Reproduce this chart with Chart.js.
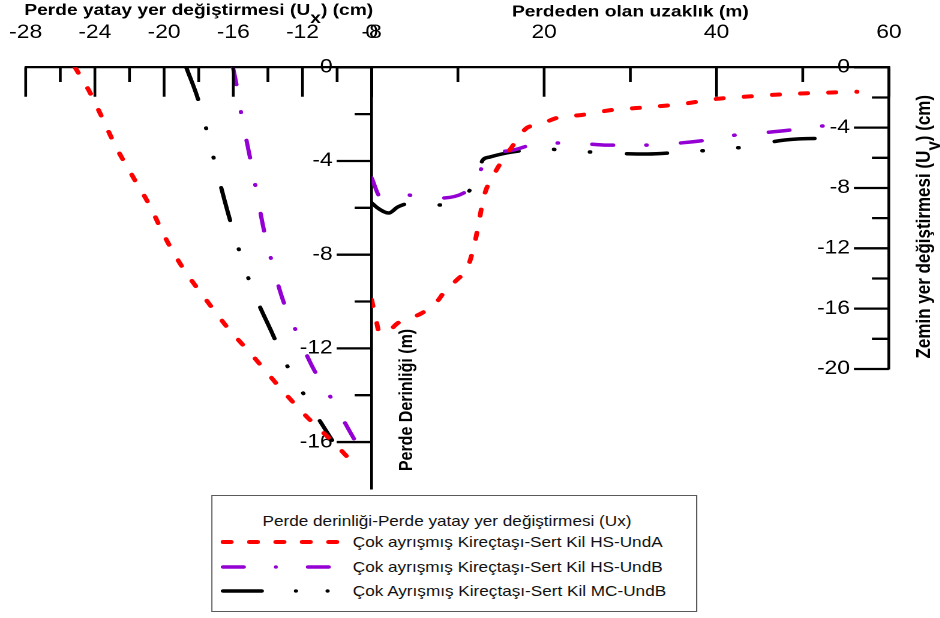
<!DOCTYPE html>
<html lang="tr">
<head>
<meta charset="utf-8">
<title>Perde yatay yer değiştirmesi ve zemin yer değiştirmesi</title>
<script src="https://cdn.jsdelivr.net/npm/chart.js@4.4.1/dist/chart.umd.min.js"></script>
<style>
  html, body { margin: 0; padding: 0; background: #fff; }
  body { width: 940px; height: 618px; overflow: hidden; position: relative; }
  /* the original figure is stretched 1.2x horizontally */
  #stage { position: absolute; left: 0; top: 0; width: 784px; height: 618px;
           transform: scaleX(1.2); transform-origin: 0 0; }
  #wall { position: absolute; left: 0; top: 0; }
  #ground { position: absolute; left: 300px; top: 0; }
  #legend { position: absolute; left: 175.5px; top: 495px; width: 405.5px; height: 117px;
            box-sizing: border-box; border: 1.4px solid #5a5a5a; background: #fff;
            font-family: 'Liberation Sans', Arial, sans-serif; font-size: 14.3px; color: #111; }
  #legend .ttl { position: absolute; left: 0; width: 392px; top: 15.3px; line-height: 20px; text-align: center; }
  #legend .row { position: absolute; left: 0; right: 0; height: 20px; }
  #legend svg { position: absolute; left: 7.85px; top: 0; }
  #legend span { position: absolute; left: 117.5px; top: 0; line-height: 20px; white-space: nowrap; }
</style>
</head>
<body>
<div id="stage">
  <canvas id="wall" width="360" height="500"></canvas>
  <canvas id="ground" width="484" height="400"></canvas>
  <div id="legend"><div class="ttl">Perde derinliği-Perde yatay yer değiştirmesi (Ux)</div></div>
</div>
<script>
const FONT = "'Liberation Sans', Arial, sans-serif";
Chart.defaults.font.family = FONT;
Chart.defaults.color = '#000';

// ---- tick labels ----
const uxTicks = [-28, -24, -20, -16, -12, -8];
const depthTicks = [0, -4, -8, -12, -16];
const distTicks = [0, 20, 40, 60];
const uyTicks = [0, -4, -8, -12, -16, -20];

// ---- left panel: wall horizontal displacement Ux (cm) vs wall depth (m) ----
const uxA = [-25.15, -24.34, -23.76, -22.78, -21.86, -20.82, -19.95, -18.91, -17.69, -16.36, -14.97, -13.18, -11.74, -10.12, -9.08];
const depthA = [0, -1.0, -1.87, -3.4, -4.6, -5.92, -7.25, -8.57, -9.81, -11.09, -12.24, -13.78, -14.93, -16.08, -16.9];

const uxB = [-16.02, -15.79, -15.56, -15.04, -14.75, -14.23, -13.88, -13.13, -12.55, -11.39, -10.58, -9.25, -8.44];
const depthB = [0, -0.84, -1.91, -3.83, -4.94, -6.95, -8.01, -9.94, -10.96, -12.84, -13.82, -15.57, -16.6];

const uxC = [-18.72, -18.02, -17.15, -16.77, -16.19, -15.21, -14.63, -13.76, -13.06, -12.2, -11.39, -10.29];
const depthC = [0, -1.4, -3.83, -4.94, -6.52, -8.83, -9.94, -11.34, -12.5, -13.61, -14.63, -15.92];

// ---- right panel: ground settlement Uy (cm) vs distance from wall (m) ----
const distA = [0, 0.46, 0.93, 2.09, 3.02, 4.53, 5.8, 7.43, 8.59, 9.86, 11.14, 11.95, 12.42, 13.0, 14.27, 16.25, 17.99, 19.26, 21.82, 24.37, 27.85, 30.75, 35.98, 39.92, 42.82, 48.39, 56.29];
const uyA = [-15.43, -16.6, -17.62, -17.42, -16.96, -16.62, -16.3, -15.63, -14.77, -14.1, -13.24, -11.65, -10.32, -8.6, -7.01, -5.29, -4.02, -3.83, -3.3, -3.16, -2.83, -2.7, -2.43, -2.1, -1.97, -1.77, -1.62];

const distB = [0, 1.04, 4.06, 7.43, 10.68, 12.19, 13.46, 16.48, 19.84, 23.33, 27.39, 31.68, 35.74, 38.88, 42.36, 45.14, 48.51, 51.99, 54.78];
const uyB = [-7.34, -8.6, -8.47, -8.67, -8.33, -7.27, -6.01, -5.48, -5.02, -5.02, -5.16, -5.16, -5.02, -4.82, -4.48, -4.35, -4.16, -3.89, -3.89];

const distC = [0, 0.7, 1.97, 3.02, 4.06, 7.43, 11.14, 12.42, 12.88, 13.69, 16.25, 19.84, 23.67, 27.16, 32.03, 35.98, 39.57, 43.17, 47.93, 51.41, 55.24];
const uyC = [-8.99, -9.33, -9.66, -9.26, -9.07, -9.13, -8.33, -6.81, -6.15, -5.95, -5.62, -5.42, -5.55, -5.68, -5.75, -5.62, -5.48, -5.29, -4.82, -4.72, -4.72];

const seriesNames = [
  'Çok ayrışmış Kireçtaşı-Sert Kil HS-UndA',
  'Çok ayrışmış Kireçtaşı-Sert Kil HS-UndB',
  'Çok Ayrışmış Kireçtaşı-Sert Kil MC-UndB'
];

// line styles (dash lengths are for round caps)
const STYLES = [
  { color: '#ff0000', width: 4, dash: [6, 17.5], legendDash: '7 15' },
  { color: '#9400d3', width: 3.5, dash: [17.5, 27.5, 0.5, 28.5], legendDash: '17.5 26.6 0.1 26.6' },
  { color: '#000000', width: 3.5, dash: [33.5, 29.5, 0.5, 29.5, 0.5, 30.5], legendDash: '32.5 28.3 0.1 26.3 0.1 40' }
];

function toPoints(xs, ys) {
  return xs.map((x, i) => ({ x: x, y: ys[i] }));
}

function makeDataset(i, points) {
  const s = STYLES[i];
  return {
    label: seriesNames[i],
    data: points,
    showLine: true,
    pointRadius: 0,
    borderColor: s.color,
    borderWidth: s.width,
    borderDash: s.dash,
    borderCapStyle: 'round',
    cubicInterpolationMode: 'monotone'
  };
}

function markTicks(scale, draw, major, minor) {
  const vals = scale.ticks.map(t => t.value);
  vals.forEach((v, i) => {
    draw(scale.getPixelForValue(v), major);
    if (i < vals.length - 1) draw(scale.getPixelForValue((v + vals[i + 1]) / 2), minor);
  });
}

function drawTitle(ctx, t) {
  ctx.save();
  ctx.translate(t.x, t.y);
  if (t.rotate) ctx.rotate(-Math.PI / 2);
  ctx.font = 'bold ' + t.size + 'px ' + FONT;
  ctx.textAlign = 'left';
  ctx.textBaseline = 'alphabetic';
  const total = t.parts.reduce((w, p) => w + ctx.measureText(p[0]).width, 0);
  let cx = -total / 2;
  t.parts.forEach(([txt, sub]) => {
    ctx.fillText(txt, cx, sub ? t.size * 0.5 : 0);
    cx += ctx.measureText(txt).width;
  });
  ctx.restore();
}

// inward tick marks on the top and right axes, plus axis titles
const axisDecor = {
  id: 'axisDecor',
  afterDraw(chart, args, opts) {
    const { ctx, chartArea } = chart;
    ctx.save();
    ctx.strokeStyle = '#000';
    ctx.lineWidth = 2.3;
    ctx.beginPath();
    markTicks(chart.scales.x, (p, len) => {
      ctx.moveTo(p, chartArea.top);
      ctx.lineTo(p, chartArea.top + len);
    }, 29.4, 14.7);
    markTicks(chart.scales.y, (p, len) => {
      ctx.moveTo(chartArea.right, p);
      ctx.lineTo(chartArea.right - len, p);
    }, 29.2, 14.2);
    ctx.stroke();
    ctx.fillStyle = '#000';
    opts.titles.forEach(t => drawTitle(ctx, t));
    ctx.restore();
  }
};

function axes(xMin, xMax, xTicks, yMin, yMax, yTicks, yWidth) {
  return {
    x: {
      type: 'linear', position: 'top', min: xMin, max: xMax,
      afterBuildTicks: s => { s.ticks = xTicks.map(v => ({ value: v })); },
      afterFit: s => { s.height = 67.3; },
      grid: { display: false },
      border: { display: true, color: '#000', width: 2.3 },
      // tall line box puts the label centre 26px above the axis line
      ticks: { font: { size: 19, lineHeight: '52.6px' }, padding: 0, maxRotation: 0, autoSkip: false }
    },
    y: {
      type: 'linear', position: 'right', min: yMin, max: yMax,
      afterBuildTicks: s => { s.ticks = yTicks.map(v => ({ value: v })); },
      afterFit: s => { s.width = yWidth; },
      grid: { display: false },
      border: { display: true, color: '#000', width: 2.3 },
      ticks: { font: { size: 19 }, mirror: true, padding: -32.5, autoSkip: false }
    }
  };
}

const common = {
  responsive: false,
  animation: false,
  devicePixelRatio: 2,
  events: []
};

new Chart(document.getElementById('wall'), {
  type: 'scatter',
  data: {
    datasets: [
      makeDataset(0, toPoints(uxA, depthA)),
      makeDataset(1, toPoints(uxB, depthB)),
      makeDataset(2, toPoints(uxC, depthC))
    ]
  },
  options: Object.assign({}, common, {
    layout: { padding: { left: 21.4, top: 0, right: 0, bottom: 11.1 } },
    scales: axes(-28, -8, uxTicks, -18, 0, depthTicks, 50.25),
    plugins: {
      legend: { display: false },
      tooltip: { enabled: false },
      axisDecor: {
        titles: [
          { parts: [['Perde yatay yer değiştirmesi (U'], ['x', true], [') (cm)']], x: 165.6, y: 15, size: 16 },
          { parts: [['Perde Derinliği (m)']], x: 343.5, y: 400, size: 16, rotate: true }
        ]
      }
    }
  }),
  plugins: [axisDecor]
});

new Chart(document.getElementById('ground'), {
  type: 'scatter',
  data: {
    datasets: [
      makeDataset(0, toPoints(distA, uyA)),
      makeDataset(1, toPoints(distB, uyB)),
      makeDataset(2, toPoints(distC, uyC))
    ]
  },
  options: Object.assign({}, common, {
    layout: { padding: { left: 9.75, top: 0, right: 0, bottom: 31 } },
    scales: axes(0, 60, distTicks, -20, 0, uyTicks, 43.2),
    plugins: {
      legend: { display: false },
      tooltip: { enabled: false },
      axisDecor: {
        titles: [
          { parts: [['Perdeden olan uzaklık (m)']], x: 225.3, y: 16.5, size: 16 },
          { parts: [['Zemin yer değiştirmesi (U'], ['y', true], [') (cm)']], x: 475, y: 226.7, size: 17, rotate: true }
        ]
      }
    }
  }),
  plugins: [axisDecor]
});

// legend box
const legendBox = document.getElementById('legend');
const rowCenters = [47.3, 72.3, 96.7];
seriesNames.forEach((name, i) => {
  const s = STYLES[i];
  const row = document.createElement('div');
  row.className = 'row';
  row.style.top = (rowCenters[i] - 10 - 1.4) + 'px';
  row.innerHTML =
    '<svg width="100" height="20"><line x1="1.75" y1="10" x2="98" y2="10" stroke="' + s.color +
    '" stroke-width="' + s.width + '" stroke-linecap="round" stroke-dasharray="' + s.legendDash + '"/></svg>' +
    '<span>' + name + '</span>';
  legendBox.appendChild(row);
});
</script>
</body>
</html>
